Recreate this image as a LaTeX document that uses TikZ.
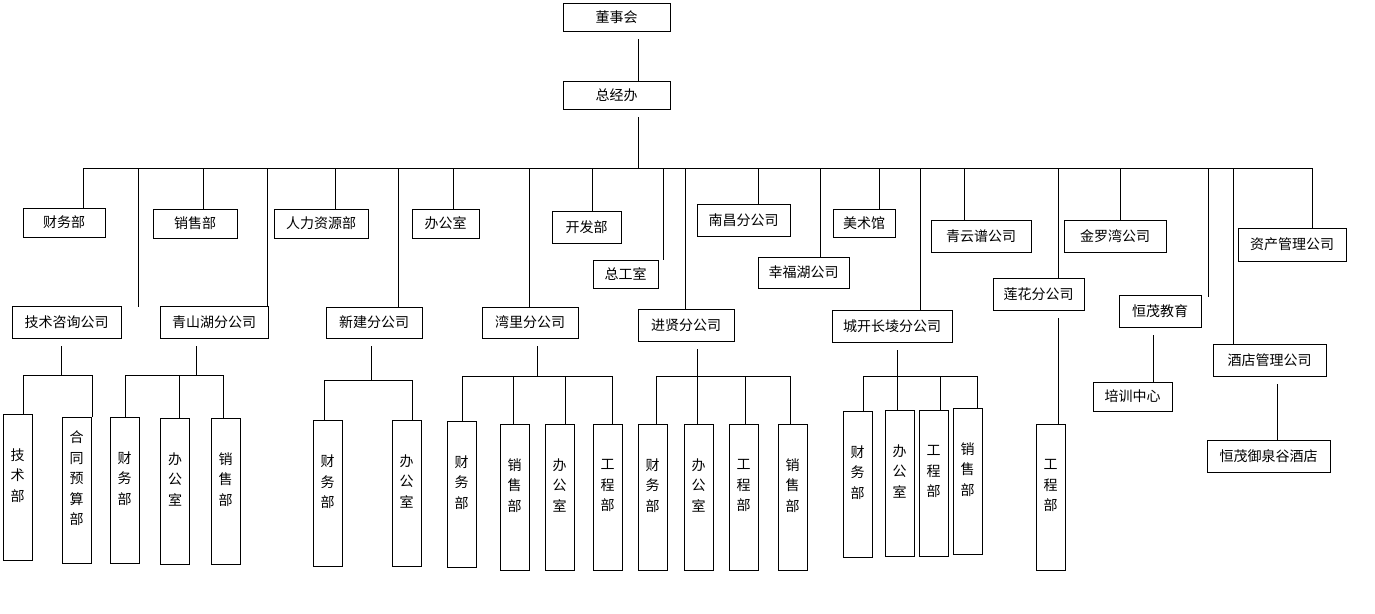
\documentclass[tikz,border=0pt]{standalone}
\usepackage{fontspec}
\newfontfamily\cjk{Noto Sans CJK SC}
\usepackage{tikz}

\begin{document}
\begin{tikzpicture}[
    x=1pt, y=-1pt,
    every node/.style={anchor=center, font=\cjk\fontsize{14}{20.5}\selectfont},
    hbox/.style={draw, line width=0.8pt, inner sep=0pt, minimum height=30},
    vbox/.style={draw, line width=0.8pt, inner sep=0pt, minimum width=29, minimum height=146,
                 align=center, text depth=24pt},
    link/.style={-, line width=0.8pt},
    stem/.style={-, line width=0.8pt, shorten <=8pt}
    ]
\useasboundingbox (0,0) rectangle (1375,613);

% Top
\node[hbox, minimum width=107, minimum height=28] (dsh) at (616.5,17) {董事会};
\node[hbox, minimum width=107, minimum height=28] (zjb) at (616.5,95) {总经办};
\coordinate (bus) at (638,168);
\draw[stem] (dsh.south -| bus) to (zjb.north -| bus);
\draw[stem] (zjb.south -| bus) to (bus);
\draw[link] (83,168) to (1312,168);

% Departments and companies under the bus
\node[hbox, minimum width=82, minimum height=29] (cwb) at (64,222.5) {财务部};
\node[hbox, minimum width=84, minimum height=29] (xsb) at (195,223.5) {销售部};
\node[hbox, minimum width=94, minimum height=29] (rlzy) at (321,223.5) {人力资源部};
\node[hbox, minimum width=67, minimum height=29] (bgs) at (445.5,223.5) {办公室};
\node[hbox, minimum width=69, minimum height=32] (kfb) at (586.5,227) {开发部};
\node[hbox, minimum width=65, minimum height=28] (zgs) at (625.5,274) {总工室};
\node[hbox, minimum width=93, minimum height=32] (nc) at (743.5,220) {南昌分公司};
\node[hbox, minimum width=91, minimum height=31] (xfh) at (803.5,272.5) {幸福湖公司};
\node[hbox, minimum width=62, minimum height=28] (msg) at (864,223) {美术馆};
\node[hbox, minimum width=100, minimum height=32] (qyp) at (981,236) {青云谱公司};
\node[hbox, minimum width=102, minimum height=32] (jlw) at (1115,236) {金罗湾公司};
\node[hbox, minimum width=108, minimum height=33] (zcgl) at (1292,244.5) {资产管理公司};
\node[hbox, minimum width=91, minimum height=32] (lh) at (1038.5,294) {莲花分公司};
\node[hbox, minimum width=82, minimum height=32] (hmjy) at (1160,311) {恒茂教育};
\node[hbox, minimum width=113, minimum height=32] (jdgl) at (1269.5,360) {酒店管理公司};
\node[hbox, minimum width=79, minimum height=29] (pxzx) at (1132.5,396.5) {培训中心};
\node[hbox, minimum width=123, minimum height=32] (hmyq) at (1268.5,456) {恒茂御泉谷酒店};

\node[hbox, minimum width=109, minimum height=32] (jszx) at (66.5,322) {技术咨询公司};
\node[hbox, minimum width=108, minimum height=32] (qsh) at (214,322) {青山湖分公司};
\node[hbox, minimum width=96, minimum height=31] (xj) at (374,322.5) {新建分公司};
\node[hbox, minimum width=96, minimum height=31] (wl) at (530,322.5) {湾里分公司};
\node[hbox, minimum width=96, minimum height=32] (jx) at (686,325) {进贤分公司};
\node[hbox, minimum width=120, minimum height=32] (ck) at (892,326) {城开长堎分公司};

% Drops from the bus
\foreach \x/\n in {83/cwb, 203/xsb, 267/qsh, 335/rlzy, 398/xj, 453/bgs, 529/wl, 592/kfb,
                   685/jx, 758/nc, 820/xfh, 879/msg, 920/ck, 964/qyp, 1058/lh, 1120/jlw,
                   1233/jdgl, 1312/zcgl}{
  \coordinate (d) at (\x,168);
  \draw[link] (d) to (d |- \n.north);
}
\coordinate (f1) at (138,307);
\coordinate (f2) at (663,260);
\coordinate (f3) at (1208,297);
\foreach \f in {f1, f2, f3}
  \draw[link] (\f |- bus) to (\f);

% Sub-departments
\node[vbox] (jsb) at (17.5,487) {技\\术\\部};
\node[vbox] (htys) at (76.5,490) {合\\同\\预\\算\\部};

\node[vbox] (q1) at (124.5,490) {财\\务\\部};
\node[vbox] (q2) at (175,491) {办\\公\\室};
\node[vbox] (q3) at (225.5,491) {销\\售\\部};

\node[vbox] (x1) at (327.5,493.5) {财\\务\\部};
\node[vbox] (x2) at (406.5,493) {办\\公\\室};

\node[vbox] (w1) at (461.5,494) {财\\务\\部};
\node[vbox] (w2) at (514.5,497) {销\\售\\部};
\node[vbox] (w3) at (559.5,497) {办\\公\\室};
\node[vbox] (w4) at (607.5,497) {工\\程\\部};

\node[vbox] (j1) at (652.5,497) {财\\务\\部};
\node[vbox] (j2) at (698.5,497) {办\\公\\室};
\node[vbox] (j3) at (743.5,497) {工\\程\\部};
\node[vbox] (j4) at (792.5,497) {销\\售\\部};

\node[vbox] (c1) at (857.5,484) {财\\务\\部};
\node[vbox] (c2) at (899.5,483) {办\\公\\室};
\node[vbox] (c3) at (933.5,483) {工\\程\\部};
\node[vbox] (c4) at (967.5,481) {销\\售\\部};

\node[vbox] (l1) at (1050.5,497) {工\\程\\部};

% Branch lines
\coordinate (h1) at (61,375);
\draw[stem] (jszx.south -| h1) to (h1);
\draw[link] (23,375) to (92,375);
\foreach \x/\n in {23/jsb, 92/htys}{
  \coordinate (d) at (\x,375);
  \draw[link] (d) to (d |- \n.north);
}

\coordinate (h2) at (196,375);
\draw[stem] (qsh.south -| h2) to (h2);
\draw[link] (125,375) to (223,375);
\foreach \x/\n in {125/q1, 179/q2, 223/q3}{
  \coordinate (d) at (\x,375);
  \draw[link] (d) to (d |- \n.north);
}

\coordinate (h3) at (371,380);
\draw[stem] (xj.south -| h3) to (h3);
\draw[link] (324,380) to (412,380);
\foreach \x/\n in {324/x1, 412/x2}{
  \coordinate (d) at (\x,380);
  \draw[link] (d) to (d |- \n.north);
}

\coordinate (h4) at (537,376);
\draw[stem] (wl.south -| h4) to (h4);
\draw[link] (462,376) to (612,376);
\foreach \x/\n in {462/w1, 513/w2, 565/w3, 612/w4}{
  \coordinate (d) at (\x,376);
  \draw[link] (d) to (d |- \n.north);
}

\coordinate (h5) at (697,376);
\draw[stem] (jx.south -| h5) to (h5);
\draw[link] (656,376) to (790,376);
\foreach \x/\n in {656/j1, 697/j2, 745/j3, 790/j4}{
  \coordinate (d) at (\x,376);
  \draw[link] (d) to (d |- \n.north);
}

\coordinate (h6) at (897,376);
\draw[stem] (ck.south -| h6) to (h6);
\draw[link] (863,376) to (977,376);
\foreach \x/\n in {863/c1, 897/c2, 940/c3, 977/c4}{
  \coordinate (d) at (\x,376);
  \draw[link] (d) to (d |- \n.north);
}

\coordinate (h7) at (1058,0);
\draw[stem] (lh.south -| h7) to (l1.north -| h7);
\coordinate (h8) at (1153,0);
\draw[stem] (hmjy.south -| h8) to (pxzx.north -| h8);
\coordinate (h9) at (1277,0);
\draw[stem] (jdgl.south -| h9) to (hmyq.north -| h9);

\end{tikzpicture}
\end{document}
